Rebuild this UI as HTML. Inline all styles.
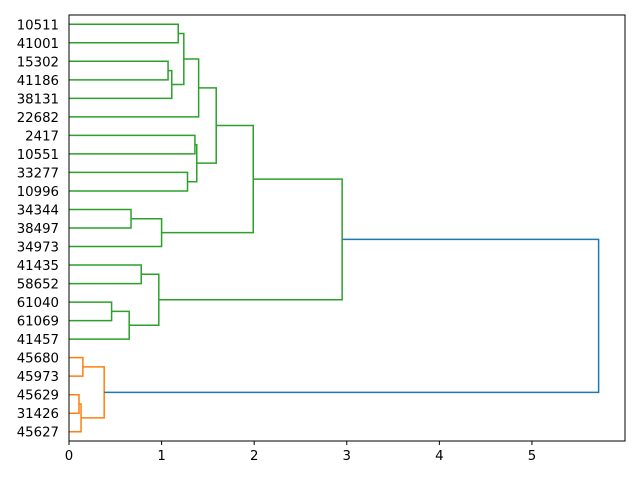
<!DOCTYPE html>
<html><head><meta charset="utf-8"><style>
body{margin:0;background:#fff}
svg{font-family:"DejaVu Sans","Liberation Sans",sans-serif}
</style></head><body>
<svg id="chart" width="640" height="480"></svg>
<script>
const leafLabels=["10511","41001","15302","41186","38131","22682","2417","10551","33277","10996","34344","38497","34973","41435","58652","61040","61069","41457","45680","45973","45629","31426","45627"];
// merge k creates cluster id 23+k; indices < 23 are leaves
const mergeLeft=[0,2,24,23,26,6,8,28,27,10,32,31,13,15,36,35,34,18,20,41,40,39];
const mergeRight=[1,3,4,25,5,7,9,29,30,11,12,33,14,16,17,37,38,19,21,22,42,43];
const mergeHeight=[1.18,1.07,1.11,1.24,1.40,1.36,1.28,1.38,1.59,0.67,1.00,1.99,0.78,0.46,0.65,0.97,2.95,0.15,0.108,0.13,0.38,5.72];
const mergeColor=["#2ca02c","#2ca02c","#2ca02c","#2ca02c","#2ca02c","#2ca02c","#2ca02c","#2ca02c","#2ca02c","#2ca02c","#2ca02c","#2ca02c","#2ca02c","#2ca02c","#2ca02c","#2ca02c","#2ca02c","#ff7f0e","#ff7f0e","#ff7f0e","#ff7f0e","#1f77b4"];
const xTicks=[0,1,2,3,4,5];
</script>
<script>
(function(){
const svg=document.getElementById('chart');
const NS='http://www.w3.org/2000/svg';
const ax={l:69,r:625,t:15,b:441};
const xMax=6.005;
const n=leafLabels.length;
const X=v=>ax.l+v/xMax*(ax.r-ax.l);
const Y=i=>ax.t+(i*10+5)/(n*10)*(ax.b-ax.t);
const pos={},hh={};
for(let i=0;i<n;i++){pos[i]=Y(i);hh[i]=0;}
for(let k=0;k<mergeLeft.length;k++){
  const a=mergeLeft[k],b=mergeRight[k],h=mergeHeight[k];
  const p=document.createElementNS(NS,'path');
  p.setAttribute('d',`M${X(hh[a])},${pos[a]}H${X(h)}V${pos[b]}H${X(hh[b])}`);
  p.setAttribute('fill','none');p.setAttribute('stroke',mergeColor[k]);p.setAttribute('stroke-width','1.5');
  
  
  svg.appendChild(p);
  pos[n+k]=(pos[a]+pos[b])/2;hh[n+k]=h;
}
const frame=document.createElementNS(NS,'rect');
frame.setAttribute('x',ax.l);frame.setAttribute('y',ax.t);frame.setAttribute('width',ax.r-ax.l);frame.setAttribute('height',ax.b-ax.t);
frame.setAttribute('fill','none');frame.setAttribute('stroke','#000');frame.setAttribute('stroke-width','1');


svg.appendChild(frame);
leafLabels.forEach((lab,i)=>{
 const t=document.createElementNS(NS,'text');
 t.setAttribute('x',ax.l-10);t.setAttribute('y',Y(i)+5);t.setAttribute('text-anchor','end');t.setAttribute('font-size','13.3');
 t.textContent=lab;
 
 
 svg.appendChild(t);
});
xTicks.forEach(v=>{
 const l=document.createElementNS(NS,'line');
 l.setAttribute('x1',X(v));l.setAttribute('x2',X(v));l.setAttribute('y1',ax.b);l.setAttribute('y2',ax.b+4);l.setAttribute('stroke','#000');
 
 
 svg.appendChild(l);
 const t=document.createElementNS(NS,'text');
 t.setAttribute('x',X(v));t.setAttribute('y',ax.b+19);t.setAttribute('text-anchor','middle');t.setAttribute('font-size','13.3');
 t.textContent=v;
 
 
 svg.appendChild(t);
});
})();
</script>
</body></html>
